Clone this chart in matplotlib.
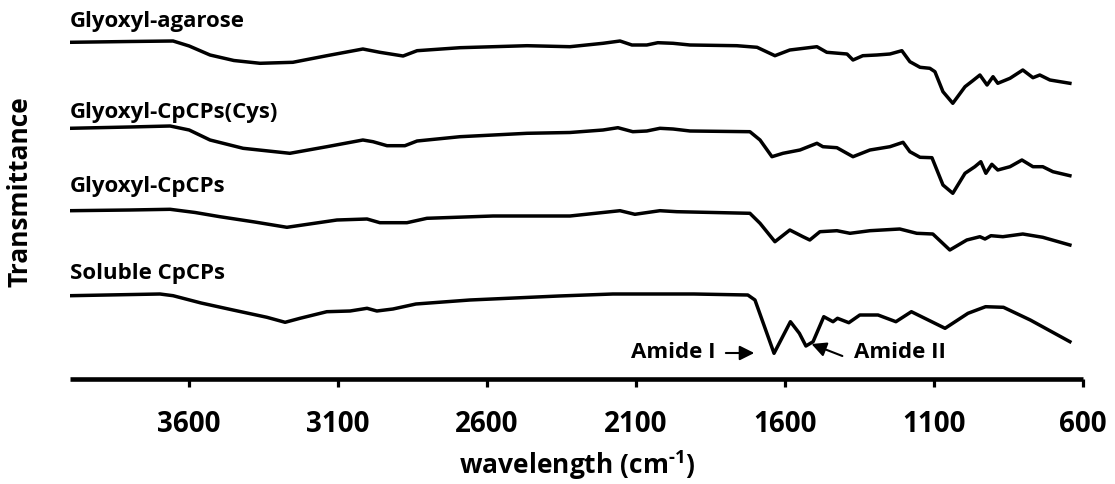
import matplotlib
matplotlib.use("Agg")
import matplotlib.pyplot as plt

plt.rcParams['font.family'] = ['Open Sans', 'DejaVu Sans']
plt.rcParams['font.weight'] = 'bold'
plt.rcParams['mathtext.fontset'] = 'custom'
plt.rcParams['mathtext.rm'] = 'Open Sans:bold'
plt.rcParams['mathtext.bf'] = 'Open Sans:bold'

# Спектры ИК (волновое число, пропускание в условных единицах со сдвигом)
wn_agarose = [4000, 3800, 3654, 3600, 3530, 3450, 3362, 3252, 3138, 3017, 2960, 2882, 2835,
              2691, 2466, 2322, 2211, 2154, 2114, 2064, 2027, 1976, 1919, 1762, 1694, 1634,
              1584, 1493, 1460, 1392, 1372, 1339, 1292, 1248, 1208, 1181, 1147, 1114, 1097,
              1070, 1037, 996, 970, 946, 922, 902, 886, 845, 802, 768, 745, 711, 644]
t_agarose = [336.7, 337.5, 338, 333, 324, 318.5, 315.7, 316.7, 323.3, 330, 326.7, 323, 328.3,
             331.3, 333.3, 332.3, 335.7, 338, 334, 334, 336.3, 335.7, 334, 333.3, 331.7, 323.3,
             329, 332.3, 326.7, 325, 319, 323.3, 324, 325, 328.3, 317.3, 311.7, 310.7, 307.3,
             287.3, 275.7, 292.3, 298.3, 304, 294, 302.3, 295.7, 300.7, 309, 301.3, 304, 299, 295.7]

wn_cys = [4000, 3800, 3664, 3600, 3530, 3419, 3262, 3138, 3017, 2983, 2936, 2876, 2835, 2691,
          2466, 2322, 2211, 2161, 2111, 2064, 2020, 1976, 1919, 1718, 1684, 1644, 1607, 1550,
          1493, 1473, 1426, 1372, 1315, 1248, 1204, 1181, 1147, 1107, 1070, 1037, 996,
          963, 943, 926, 906, 886, 845, 805, 768, 735, 701, 644]
t_cys = [250.7, 252, 253, 249, 239, 230.7, 225.7, 232.3, 239, 237.3, 233.3, 233.3, 238, 242.3,
         245.7, 246.5, 249, 251.3, 247.3, 248, 250.7, 250, 248, 247.3, 239, 222.3, 225.7, 229,
         235.7, 232.3, 231.3, 222.3, 229, 232.3, 236.7, 227.3, 221.7, 221.3, 194, 185.7, 205.7,
         212.3, 217.3, 205.7, 214.7, 209, 212.3, 219, 212.3, 212.3, 207.3, 203.3]

wn_cpcps = [4000, 3800, 3664, 3580, 3497, 3380, 3272, 3104, 3003, 2960, 2869, 2802, 2580,
            2322, 2154, 2104, 2020, 1963, 1718, 1684, 1634, 1584, 1540, 1517, 1483, 1426,
            1382, 1315, 1215, 1158, 1104, 1047, 990, 946, 929, 909, 869, 802, 735, 644]
t_cpcps = [168.3, 169, 169.7, 166.5, 162.3, 157, 151.7, 159, 160, 156.3, 156.3, 160.7, 163,
           163, 168.3, 164.7, 168.3, 167.3, 165.7, 155.7, 137.3, 149, 142.3, 139, 147.3, 148.3,
           145.7, 148.3, 150, 145.7, 145, 129, 139, 142.3, 140, 143.3, 142.3, 145, 141.7, 134]

wn_soluble = [4000, 3698, 3654, 3560, 3453, 3339, 3278, 3228, 3138, 3060, 3003, 2970, 2916,
              2839, 2658, 2359, 2178, 1906, 1725, 1701, 1637, 1582, 1552, 1530, 1506, 1470,
              1439, 1424, 1386, 1349, 1288, 1228, 1176, 1063, 986, 927, 867, 777, 644]
t_soluble = [83.3, 85, 83.3, 76, 69, 61.7, 56.7, 60.7, 67.3, 68, 70.7, 68, 70,
             75, 79, 83, 85, 85, 84, 79, 25.7, 57.3, 45.7, 33, 37.3, 62.3,
             57.3, 60.7, 56.3, 64, 64, 57.3, 67.3, 50.7, 65.7, 72.3, 71.7, 59, 37.3]

names = ['Glyoxyl-agarose', 'Glyoxyl-CpCPs(Cys)', 'Glyoxyl-CpCPs', 'Soluble CpCPs']
label_levels = [352, 261, 187, 100]
x_ticks = [3600, 3100, 2600, 2100, 1600, 1100, 600]

fig = plt.figure(figsize=(11.15, 4.84), dpi=100)
ax = fig.add_axes([70 / 1115, 105 / 484, 1013 / 1115, 379 / 484])

for wn, t in [(wn_agarose, t_agarose), (wn_cys, t_cys), (wn_cpcps, t_cpcps), (wn_soluble, t_soluble)]:
    ax.plot(wn, t, color='black', linewidth=2.5, solid_joinstyle='round')

for name, lvl in zip(names, label_levels):
    ax.text(4000, lvl, name, fontsize=16, fontweight='bold', ha='left', va='baseline')

# подписи полос амид I / амид II
ax.annotate('', xy=(1694, 26), xytext=(1808, 26),
            arrowprops=dict(arrowstyle='-|>', color='black', lw=1.5, mutation_scale=22))
ax.text(1835, 26, 'Amide I', fontsize=16, fontweight='bold', ha='right', va='center')
ax.annotate('', xy=(1520, 36), xytext=(1399, 22),
            arrowprops=dict(arrowstyle='-|>', color='black', lw=1.5, mutation_scale=22))
ax.text(1369, 26, 'Amide II', fontsize=16, fontweight='bold', ha='left', va='center')

ax.set_xlim(4000, 600)
ax.set_ylim(0, 379)
ax.set_xticks(x_ticks)
ax.set_xticklabels([str(v) for v in x_ticks], fontsize=20, fontweight='bold')
ax.tick_params(axis='x', direction='out', length=6, width=2.3, pad=16)
ax.set_yticks([])
for side in ['top', 'right', 'left']:
    ax.spines[side].set_visible(False)
ax.spines['bottom'].set_linewidth(3.3)
ax.spines['bottom'].set_capstyle('butt')

fig.text(577 / 1115, 1 - 465 / 484, r'wavelength (cm$^{\text{-1}}$)', fontsize=19,
         fontweight='bold', ha='center', va='center')
fig.text(20 / 1115, 1 - 192 / 484, 'Transmittance', fontsize=19, fontweight='bold',
         rotation=90, ha='center', va='center')

fig.savefig('out.png', dpi=100)
